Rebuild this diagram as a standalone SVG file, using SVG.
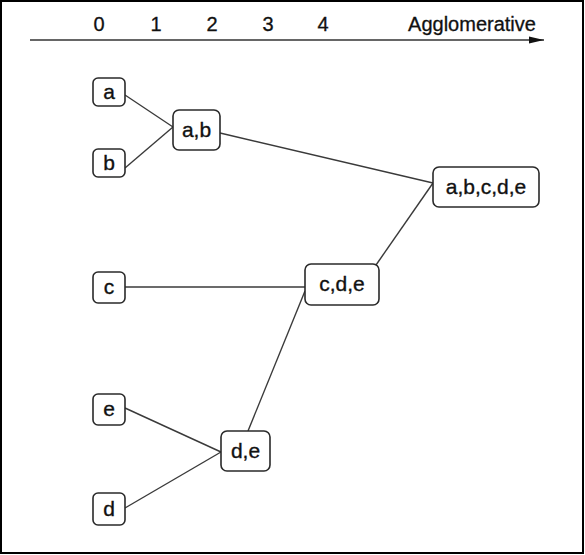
<svg xmlns="http://www.w3.org/2000/svg" width="585" height="555" viewBox="0 0 585 555">
<style>
.box{fill:#fff;stroke:#2a2a2a;stroke-width:1.6}
.lbl{font-family:"Liberation Sans",Arial,sans-serif;font-size:21px;fill:#111;stroke:#111;stroke-width:0.35;text-anchor:middle;dominant-baseline:central}
.ax{font-family:"Liberation Sans",Arial,sans-serif;font-size:20px;fill:#111;stroke:#111;stroke-width:0.3;text-anchor:middle}
.edge{stroke:#3a3a3a;stroke-width:1.4;fill:none}
</style>
<defs>
<marker id="arr" markerWidth="16" markerHeight="10" refX="15" refY="5" orient="auto" markerUnits="userSpaceOnUse">
<path d="M0,1.5 L15,5 L0,8.5 Z" fill="#111"/>
</marker>
</defs>
<rect x="1" y="1" width="582" height="552" fill="#fff" stroke="#000" stroke-width="2"/>
<g id="axis">
<line x1="30" y1="40" x2="544" y2="40" stroke="#333" stroke-width="1.5" marker-end="url(#arr)"/>
<text class="ax" x="99" y="31">0</text>
<text class="ax" x="156" y="31">1</text>
<text class="ax" x="212" y="31">2</text>
<text class="ax" x="268" y="31">3</text>
<text class="ax" x="323" y="31">4</text>
<text class="ax" x="472" y="31">Agglomerative</text>
</g>
<g id="connectors">
<line class="edge" x1="125" y1="95" x2="173" y2="127"/>
<line class="edge" x1="125" y1="168" x2="173" y2="127"/>
<line class="edge" x1="220" y1="133" x2="433" y2="183"/>
<line class="edge" x1="125" y1="287" x2="305" y2="287"/>
<line class="edge" x1="376" y1="265" x2="433" y2="183"/>
<line class="edge" x1="125" y1="408" x2="221" y2="452"/>
<line class="edge" x1="125" y1="508" x2="221" y2="452"/>
<line class="edge" x1="248" y1="431" x2="305" y2="291"/>
</g>
<g id="n-a"><rect class="box" x="93" y="78" width="32" height="28" rx="5"/><text class="lbl" x="109" y="91">a</text></g>
<g id="n-b"><rect class="box" x="93" y="149" width="32" height="28" rx="5"/><text class="lbl" x="109" y="162">b</text></g>
<g id="n-ab"><rect class="box" x="173" y="110" width="47" height="40" rx="6"/><text class="lbl" x="196.5" y="129">a,b</text></g>
<g id="n-c"><rect class="box" x="93" y="272" width="32" height="31" rx="5"/><text class="lbl" x="109" y="286">c</text></g>
<g id="n-cde"><rect class="box" x="305" y="264" width="74" height="41" rx="6"/><text class="lbl" x="342" y="283.5">c,d,e</text></g>
<g id="n-abcde"><rect class="box" x="433" y="167" width="106" height="40" rx="6"/><text class="lbl" x="486" y="186">a,b,c,d,e</text></g>
<g id="n-e"><rect class="box" x="93" y="394" width="32" height="31" rx="5"/><text class="lbl" x="109" y="408">e</text></g>
<g id="n-d"><rect class="box" x="93" y="493" width="32" height="32" rx="5"/><text class="lbl" x="109" y="508">d</text></g>
<g id="n-de"><rect class="box" x="221" y="431" width="49" height="40" rx="6"/><text class="lbl" x="245.5" y="450">d,e</text></g>
</svg>
